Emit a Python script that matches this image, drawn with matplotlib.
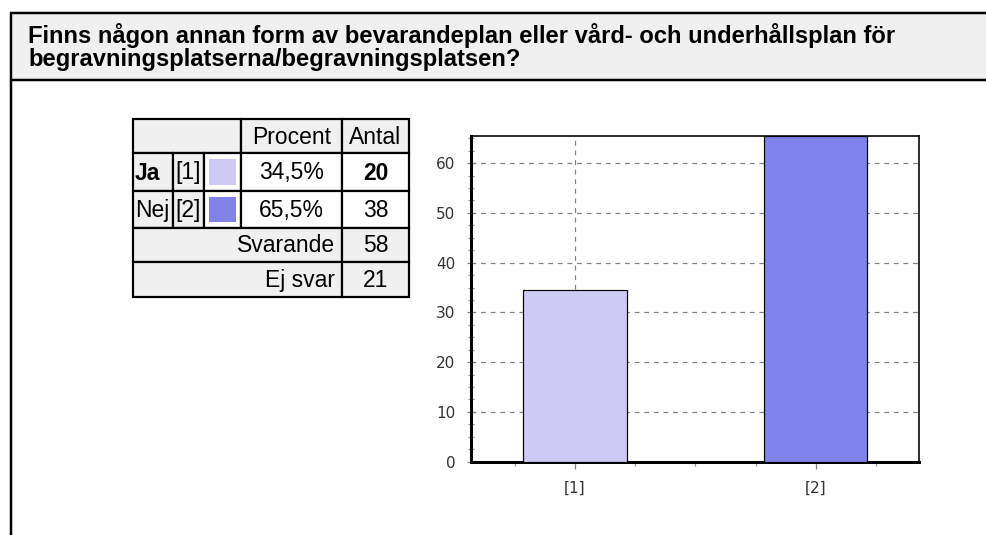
import matplotlib
matplotlib.use("Agg")
import matplotlib.pyplot as plt
from matplotlib.patches import Rectangle
from matplotlib.ticker import MultipleLocator

# data
title_lines = ["Finns någon annan form av bevarandeplan eller vård- och underhållsplan för",
               "begravningsplatserna/begravningsplatsen?"]
categories = ["[1]", "[2]"]
answers = ["Ja", "Nej"]
percent = [34.5, 65.5]
counts = [20, 38]
svarande = 58
ej_svar = 21
colors = ["#cdcbf5", "#8282eb"]

W, H = 986, 535
fig = plt.figure(figsize=(W / 100, H / 100), dpi=100)

# pixel canvas for frame, title and table
bg = fig.add_axes([0, 0, 1, 1])
bg.set_xlim(0, W)
bg.set_ylim(H, 0)
bg.axis("off")

px = 0.72  # points per pixel
bg.add_patch(Rectangle((13, 14), W - 13, 65, facecolor="#f0f0f0", edgecolor="none"))
bg.plot([10, W], [12.5, 12.5], color="black", lw=2.5 * px, solid_capstyle="butt")
bg.plot([11, 11], [12, H], color="black", lw=2.5 * px, solid_capstyle="butt")
bg.plot([11, W], [80, 80], color="black", lw=2.5 * px, solid_capstyle="butt")

tfont = dict(family="Liberation Sans", fontsize=17.1, fontweight="bold", va="baseline")
bg.text(28, 43, title_lines[0], **tfont)
bg.text(28, 66, title_lines[1], **tfont)

# table
cx = [133, 173, 204, 241, 342, 409]
ry = [119, 153, 191, 228, 262, 297]
gray = "#f0f0f0"
fs = 16.5
lw = 2.2 * px

def cell(x0, x1, y0, y1, fc):
    bg.add_patch(Rectangle((x0, y0), x1 - x0, y1 - y0, facecolor=fc,
                           edgecolor="black", lw=lw))

def txt(x, y, s, ha="center", bold=False):
    bg.text(x, y, s, ha=ha, va="center", fontsize=fs, family="Liberation Sans",
            fontweight="bold" if bold else "normal")

cell(cx[0], cx[3], ry[0], ry[1], gray)
cell(cx[3], cx[4], ry[0], ry[1], gray)
cell(cx[4], cx[5], ry[0], ry[1], gray)
txt((cx[3] + cx[4]) / 2, (ry[0] + ry[1]) / 2 + 1, "Procent")
txt((cx[4] + cx[5]) / 2, (ry[0] + ry[1]) / 2 + 1, "Antal")

for i in range(len(answers)):
    y0, y1 = ry[i + 1], ry[i + 2]
    yc = (y0 + y1) / 2 + 1
    cell(cx[0], cx[1], y0, y1, gray)
    cell(cx[1], cx[2], y0, y1, gray)
    cell(cx[2], cx[3], y0, y1, "white")
    cell(cx[3], cx[4], y0, y1, "white")
    cell(cx[4], cx[5], y0, y1, "white")
    bg.add_patch(Rectangle((cx[2] + 5, y0 + 6), cx[3] - cx[2] - 10, y1 - y0 - 12,
                           facecolor=colors[i], edgecolor="none"))
    txt(cx[0] + 2, yc, answers[i], ha="left", bold=(i == 0))
    txt((cx[1] + cx[2]) / 2, yc, categories[i])
    txt((cx[3] + cx[4]) / 2, yc, f"{percent[i]:.1f}%".replace(".", ","))
    txt((cx[4] + cx[5]) / 2, yc, str(counts[i]), bold=(i == 0))

for j, (lab, val) in enumerate([("Svarande", svarande), ("Ej svar", ej_svar)]):
    y0, y1 = ry[3 + j], ry[4 + j]
    yc = (y0 + y1) / 2 + 1
    cell(cx[0], cx[4], y0, y1, gray)
    cell(cx[4], cx[5], y0, y1, gray)
    txt(cx[4] - 7, yc, lab, ha="right")
    txt((cx[4] + cx[5]) / 2, yc, str(val))

# bar chart
left, right, top, bottom = 470.7, 919, 135.7, 461.7
ax = fig.add_axes([left / W, 1 - bottom / H, (right - left) / W, (bottom - top) / H])
xs = list(range(len(categories)))
ax.bar(xs, percent, width=0.43, color=colors, edgecolor="black", linewidth=1.2 * px, zorder=3)
ax.set_xlim(-0.433, 1.429)
ax.set_ylim(0, 65.5)
ax.set_xticks(xs)
ax.set_xticklabels(categories)
ax.set_yticks(range(0, 61, 10))
ax.yaxis.set_minor_locator(MultipleLocator(2.5))
ax.xaxis.set_minor_locator(MultipleLocator(0.25))
ax.grid(True, which="major", color="#808080", linestyle=(0, (4, 4)), linewidth=1.2 * px)
ax.set_axisbelow(True)
for s in ["left", "bottom"]:
    ax.spines[s].set_linewidth(3 * px)
for s in ["top", "right"]:
    ax.spines[s].set_linewidth(1.6 * px)
ax.tick_params(axis="y", which="major", direction="inout", length=6, width=1.2 * px,
               color="#808080", labelsize=11, labelcolor="#333333", pad=8)
ax.tick_params(axis="x", which="major", direction="out", length=5, width=1.2 * px,
               color="#808080", labelsize=11, labelcolor="#333333", pad=9)
ax.tick_params(axis="y", which="minor", direction="inout", length=4, width=1.2 * px,
               color="#909090")
ax.tick_params(axis="x", which="minor", direction="out", length=3, width=1.2 * px,
               color="#909090")

fig.savefig("out.png", dpi=100)
